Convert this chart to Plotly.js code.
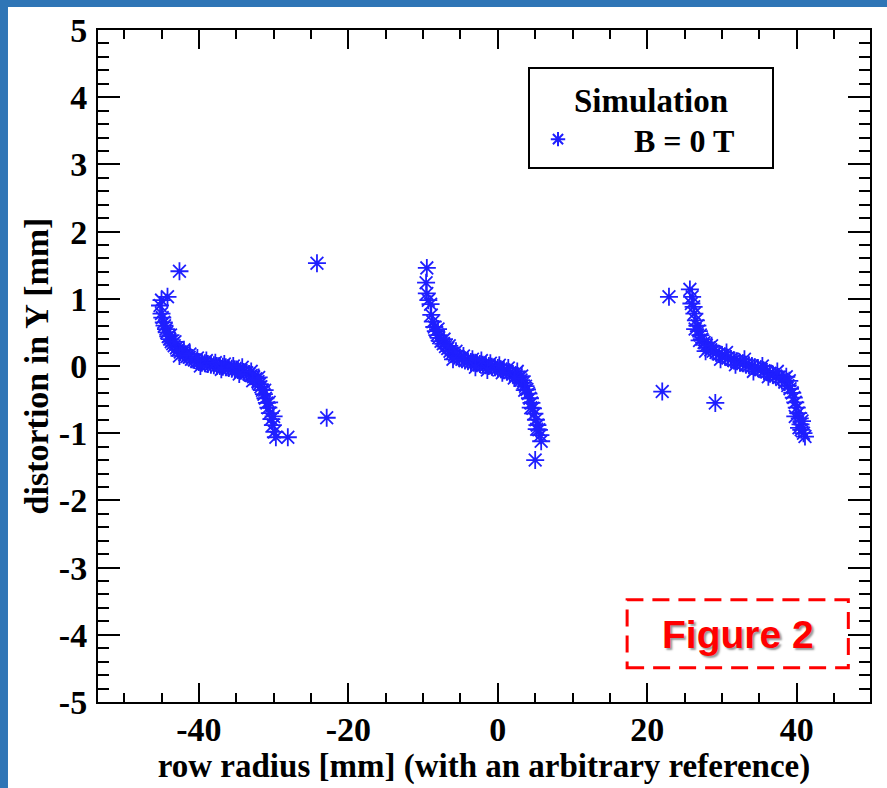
<!DOCTYPE html>
<html>
<head>
<meta charset="utf-8">
<script src="https://cdn.plot.ly/plotly-3.0.1.min.js"></script>
<style>html,body{margin:0;padding:0;background:#fff;}#chart{width:887px;height:788px;}</style>
</head>
<body>
<div id="chart"></div>
<script>
// ---- data ----
const leftX = [-45.2,-45.0,-44.2,-45.0,-44.9,-44.7,-44.6,-44.4,-44.3,-44.1,-43.9,-43.7,-43.5,-43.3,-43.0,-42.8,-42.5,-42.2,-41.9,-41.6,-41.3,-41.0,-40.6,-40.3,-40.0,-39.6,-39.2,-38.8,-38.4,-38.0,-37.6,-37.2,-36.8,-36.4,-36.0,-35.6,-35.2,-34.8,-34.4,-34.0,-33.6,-33.3,-33.0,-32.7,-32.4,-32.1,-31.9,-31.7,-31.5,-31.3,-31.1,-30.9,-30.7,-30.5,-30.3,-30.1,-29.9,-29.7,-28.1,
  -43.8,-43.2,-42.0,-41.2,-40.2,-39.0,-37.8,-36.6,-35.4,-34.2,-33.0,-32.0,-31.2,-30.6,-30.0,-39.8,-37.0,-34.6,-32.8,-42.6];
const leftY = [0.90,0.98,1.03,0.78,0.72,0.65,0.60,0.55,0.50,0.44,0.40,0.36,0.33,0.30,0.27,0.24,0.21,0.19,0.17,0.14,0.13,0.10,0.09,0.07,0.06,0.05,0.04,0.03,0.02,0.01,0.00,0.00,-0.01,-0.02,-0.03,-0.04,-0.05,-0.06,-0.07,-0.09,-0.10,-0.12,-0.14,-0.16,-0.19,-0.23,-0.27,-0.31,-0.36,-0.42,-0.48,-0.55,-0.62,-0.70,-0.79,-0.88,-0.98,-1.06,-1.06,
  0.46,0.36,0.24,0.18,0.12,0.08,0.05,0.03,0.00,-0.02,-0.08,-0.17,-0.36,-0.54,-0.75,0.00,-0.05,-0.12,-0.22,0.15];
const leftOutX = [-42.6,-24.2,-22.9];
const leftOutY = [1.41,1.53,-0.77];

const midX = [-9.5,-9.6,-9.5,-9.3,-9.0,-8.9,-8.7,-8.5,-8.3,-8.1,-7.9,-7.6,-7.3,-7.0,-6.7,-6.4,-6.1,-5.8,-5.5,-5.1,-4.8,-4.4,-4.0,-3.6,-3.2,-2.8,-2.4,-2.0,-1.6,-1.2,-0.8,-0.4,0.0,0.4,0.8,1.2,1.6,2.0,2.4,2.8,3.1,3.4,3.7,3.9,4.1,4.3,4.5,4.7,4.9,5.1,5.3,5.5,5.7,5.8,5.0,
  -8.0,-7.2,-6.5,-5.6,-4.6,-3.4,-2.2,-1.0,0.2,1.4,2.6,3.2,-3.0,-1.4,0.6,2.2,3.6,4.4,5.2,-6.0];
const midY = [1.46,1.24,1.08,0.98,0.92,0.76,0.66,0.58,0.52,0.46,0.42,0.37,0.33,0.29,0.26,0.22,0.19,0.16,0.14,0.12,0.10,0.08,0.07,0.06,0.05,0.04,0.03,0.02,0.01,0.00,-0.01,-0.02,-0.03,-0.05,-0.06,-0.08,-0.10,-0.12,-0.14,-0.17,-0.21,-0.25,-0.30,-0.35,-0.41,-0.48,-0.55,-0.63,-0.71,-0.80,-0.88,-0.95,-1.03,-1.12,-1.40,
  0.55,0.40,0.30,0.22,0.15,0.10,0.08,0.04,0.01,-0.03,-0.08,-0.15,-0.02,-0.06,-0.10,-0.18,-0.36,-0.62,-0.94,0.10];

const rightX = [25.7,26.0,25.9,26.2,26.3,26.5,26.7,26.9,27.1,27.3,27.6,27.9,28.2,28.5,28.8,29.2,29.6,30.0,30.4,30.8,31.2,31.6,32.0,32.4,32.8,33.2,33.6,34.0,34.4,34.8,35.2,35.6,36.0,36.4,36.8,37.2,37.6,38.0,38.4,38.8,39.1,39.4,39.6,39.8,40.0,40.2,40.4,40.5,40.6,40.9,41.1,
  26.4,27.0,27.8,28.6,29.8,30.6,31.8,33.0,34.2,35.4,36.2,37.4,38.6,39.0,39.8,40.3,40.7];
const rightY = [1.14,1.03,0.93,0.88,0.78,0.68,0.60,0.52,0.46,0.40,0.35,0.31,0.27,0.24,0.22,0.20,0.18,0.16,0.14,0.12,0.10,0.08,0.07,0.05,0.04,0.02,0.01,0.00,-0.02,-0.03,-0.05,-0.07,-0.09,-0.11,-0.13,-0.15,-0.17,-0.20,-0.24,-0.29,-0.34,-0.40,-0.47,-0.54,-0.62,-0.70,-0.78,-0.87,-0.95,-1.00,-1.05,
  0.55,0.38,0.22,0.30,0.10,0.20,0.02,0.10,-0.08,0.00,-0.16,-0.08,-0.16,-0.22,-0.75,-0.92,-0.82];
const rightOutX = [22.0,22.9,29.1];
const rightOutY = [-0.38,1.03,-0.55];

const xTickVals = [-40,-20,0,20,40];
const xTickText = ['-40','-20','0','20','40'];
const yTickVals = [-5,-4,-3,-2,-1,0,1,2,3,4,5];
const yTickText = ['-5','-4','-3','-2','-1','0','1','2','3','4','5'];
const seriesName = 'B = 0 T';
const legendTitle = 'Simulation';
const figureLabel = 'Figure 2';
// --------------------------------------

const allX = [].concat(leftX, leftOutX, midX, rightX, rightOutX);
const allY = [].concat(leftY, leftOutY, midY, rightY, rightOutY);

const serif = 'Liberation Serif, Times New Roman, serif';
const blue = '#1f1fff';
const nb = '\u00a0';

const trace = {
  type: 'scatter', mode: 'markers', x: allX, y: allY,
  name: nb.repeat(7) + seriesName + nb.repeat(4),
  marker: {symbol: 'asterisk-open', size: 15, color: blue, line: {color: blue, width: 1.8}},
  showlegend: true
};

const axisCommon = {
  showline: true, linecolor: '#000', linewidth: 2, mirror: 'allticks',
  ticks: 'inside', tickcolor: '#000', tickwidth: 2, showgrid: false, zeroline: false,
  tickmode: 'array',
  tickfont: {family: serif, size: 34, color: '#000', weight: 'bold'},
};

const layout = {
  width: 887, height: 788,
  margin: {l: 98, r: 17, t: 30, b: 86, pad: 0},
  paper_bgcolor: '#2f75b6', plot_bgcolor: '#fff',
  showlegend: true,
  xaxis: Object.assign({}, axisCommon, {
    range: [-53.5, 49.8], tickvals: xTickVals, ticktext: xTickText, ticklen: 19,
    ticklabelstandoff: -4,
    minor: {dtick: 5, tick0: 0, ticks: 'inside', ticklen: 9, tickwidth: 2, tickcolor: '#000', showgrid: false},
    title: {text: 'row radius [mm] (with an arbitrary reference)', standoff: 4,
            font: {family: serif, size: 33, color: '#000', weight: 'bold'}}
  }),
  yaxis: Object.assign({}, axisCommon, {
    range: [-5, 5], tickvals: yTickVals, ticktext: yTickText, ticklen: 22,
    ticklabelstandoff: 2,
    minor: {dtick: 0.2, tick0: 0, ticks: 'inside', ticklen: 11, tickwidth: 2, tickcolor: '#000', showgrid: false},
    title: {text: 'distortion in Y [mm]', standoff: 0,
            font: {family: serif, size: 34, color: '#000', weight: 'bold'}}
  }),
  legend: {
    x: 0.557, y: 0.945, xanchor: 'left', yanchor: 'top',
    bgcolor: '#fff', bordercolor: '#000', borderwidth: 2, indentation: 8,
    font: {family: serif, size: 32, color: '#000', weight: 'bold'},
    title: {text: legendTitle, side: 'top center', font: {family: serif, size: 33, color: '#000', weight: 'bold'}},
    itemsizing: 'constant'
  },
  shapes: [
    {type: 'rect', xref: 'paper', yref: 'paper', x0: -0.1166, x1: 1.03, y0: -0.14, y1: 1.0342,
     fillcolor: '#fff', line: {width: 0}, layer: 'below'},
    {type: 'rect', xref: 'x', yref: 'y', x0: 17.3, x1: 46.9, y0: -4.49, y1: -3.48,
     line: {color: '#ff0000', width: 3, dash: '17px,9px'}, fillcolor: 'rgba(0,0,0,0)', layer: 'above'}
  ],
  annotations: [
    {xref: 'x', yref: 'y', x: 32.2, y: -3.99, text: figureLabel, showarrow: false,
     font: {family: 'Liberation Sans, Arial, sans-serif', size: 39, color: '#ff0000', weight: 'bold', shadow: '2px 2px 2px #999'}}
  ]
};

Plotly.newPlot('chart', [trace], layout, {displayModeBar: false, staticPlot: true});
</script>
</body>
</html>
